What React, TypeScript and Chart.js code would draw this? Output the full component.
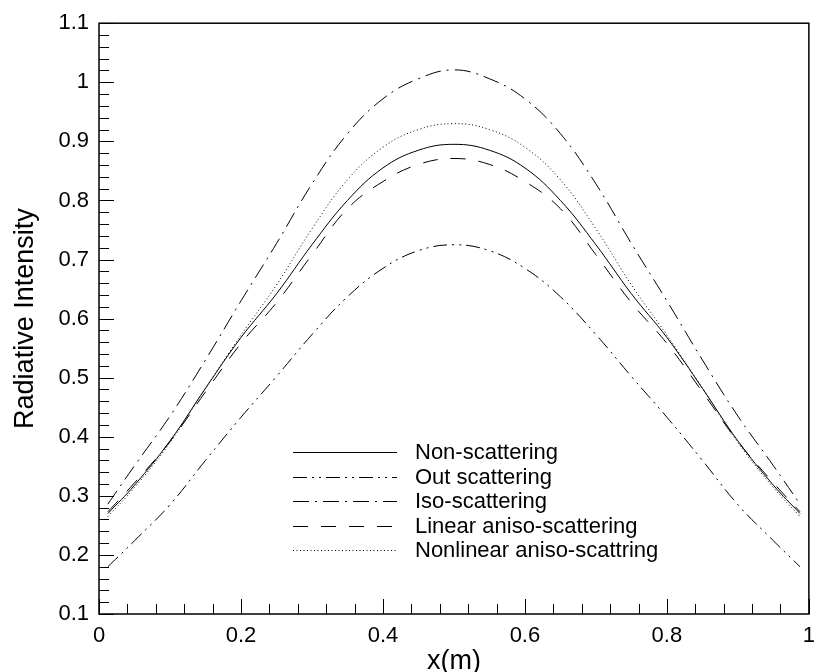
import React, { useEffect, useRef } from "react";
import { Chart, registerables } from "chart.js";

Chart.register(...registerables);

const xValues = [0.0125, 0.05, 0.1, 0.15, 0.2, 0.25, 0.3, 0.35, 0.4, 0.45, 0.5, 0.55, 0.6, 0.65, 0.7, 0.75, 0.8, 0.85, 0.9, 0.95, 0.9875];

const nonScattering = [0.270, 0.318, 0.393, 0.482, 0.568, 0.642, 0.725, 0.800, 0.855, 0.885, 0.895, 0.885, 0.855, 0.800, 0.725, 0.642, 0.568, 0.482, 0.393, 0.318, 0.270];
const outScattering = [0.180, 0.224, 0.285, 0.360, 0.433, 0.502, 0.573, 0.637, 0.685, 0.715, 0.725, 0.715, 0.685, 0.637, 0.573, 0.502, 0.433, 0.360, 0.285, 0.224, 0.180];
const isoScattering = [0.286, 0.351, 0.435, 0.530, 0.630, 0.727, 0.828, 0.913, 0.972, 1.006, 1.021, 1.006, 0.972, 0.913, 0.828, 0.727, 0.630, 0.530, 0.435, 0.351, 0.286];
const linearAniso = [0.273, 0.322, 0.392, 0.476, 0.558, 0.627, 0.708, 0.786, 0.832, 0.861, 0.871, 0.861, 0.832, 0.786, 0.708, 0.627, 0.558, 0.476, 0.392, 0.322, 0.273];
const nonlinearAniso = [0.265, 0.314, 0.390, 0.482, 0.572, 0.657, 0.752, 0.835, 0.890, 0.920, 0.930, 0.920, 0.890, 0.835, 0.752, 0.657, 0.572, 0.482, 0.390, 0.314, 0.265];

const seriesLabels = ["Non-scattering", "Out scattering", "Iso-scattering", "Linear aniso-scattering", "Nonlinear aniso-scattring"];
const seriesValues = [nonScattering, outScattering, isoScattering, linearAniso, nonlinearAniso];
const seriesDashes: number[][] = [[], [14, 5, 2, 5, 2, 5], [16, 6, 2, 6], [15, 13], [1, 2.5]];

const FONT = "'Liberation Sans', Arial, Helvetica, sans-serif";

const frameTicksLegend = {
  id: "frameTicksLegend",
  afterDatasetsDraw(chart: any) {
    const { ctx, chartArea: a, scales } = chart;
    const xs = scales.x;
    const ys = scales.y;
    ctx.save();
    ctx.strokeStyle = "#000";
    ctx.lineWidth = 1;
    ctx.setLineDash([]);
    for (let i = 0; i <= 50; i++) {
      const v = 0.1 + i * 0.02;
      const py = Math.round(ys.getPixelForValue(v)) + 0.5;
      const len = i % 5 === 0 ? 15 : 10;
      ctx.beginPath();
      ctx.moveTo(a.left, py);
      ctx.lineTo(a.left + len, py);
      ctx.stroke();
    }
    for (let i = 0; i <= 25; i++) {
      const v = i * 0.04;
      const px = Math.round(xs.getPixelForValue(v)) + 0.5;
      const len = i % 5 === 0 ? 15 : 10;
      ctx.beginPath();
      ctx.moveTo(px, a.bottom);
      ctx.lineTo(px, a.bottom - len);
      ctx.stroke();
    }
    ctx.lineWidth = 1.5;
    ctx.strokeRect(a.left, a.top, a.right - a.left, a.bottom - a.top);

    // legend
    const lx0 = a.left + 194;
    const lx1 = lx0 + 104;
    const tx = lx1 + 18;
    const y0 = 452;
    const rowH = 24.6;
    ctx.font = "22px " + FONT;
    ctx.textBaseline = "middle";
    ctx.textAlign = "left";
    ctx.fillStyle = "#000";
    chart.data.datasets.forEach((ds: any, i: number) => {
      const y = Math.round(y0 + i * rowH) + 0.5;
      ctx.lineWidth = 1;
      ctx.setLineDash(ds.borderDash || []);
      ctx.beginPath();
      ctx.moveTo(lx0, y);
      ctx.lineTo(lx1, y);
      ctx.stroke();
      ctx.setLineDash([]);
      ctx.fillText(ds.label, tx, y);
    });
    ctx.restore();
  },
};

function fmt(v: number) {
  return String(Number(Number(v).toFixed(2)));
}

export default function App() {
  const ref = useRef<HTMLCanvasElement | null>(null);
  useEffect(() => {
    if (!ref.current) return;
    const chart = new Chart(ref.current, {
      type: "line",
      data: {
        datasets: seriesLabels.map((label, i) => ({
          label,
          data: xValues.map((x, j) => ({ x, y: seriesValues[i][j] })),
          borderColor: "#000",
          borderWidth: 1,
          borderDash: seriesDashes[i],
          pointRadius: 0,
          fill: false,
          tension: 0.4,
        })),
      },
      options: {
        responsive: false,
        animation: false,
        layout: { padding: { top: 22, right: 5, left: 0, bottom: 0 } },
        plugins: { legend: { display: false }, tooltip: { enabled: false } },
        scales: {
          x: {
            type: "linear",
            min: 0,
            max: 1,
            grid: { display: false, drawTicks: false, tickLength: 0 },
            border: { display: false },
            ticks: {
              stepSize: 0.2,
              autoSkip: false,
              maxRotation: 0,
              padding: 9,
              color: "#000",
              font: { family: FONT, size: 22 },
              callback: (v: any) => fmt(v),
            },
            title: {
              display: true,
              text: "x(m)",
              color: "#000",
              font: { family: FONT, size: 27, lineHeight: 0.8 },
              padding: { top: 0, bottom: 0 },
            },
            afterFit: (s: any) => {
              s.height = 58;
            },
          },
          y: {
            type: "linear",
            min: 0.1,
            max: 1.1,
            grid: { display: false, drawTicks: false, tickLength: 0 },
            border: { display: false },
            ticks: {
              stepSize: 0.1,
              autoSkip: false,
              padding: 10,
              color: "#000",
              font: { family: FONT, size: 22 },
              callback: (v: any) => fmt(v),
            },
            title: {
              display: true,
              text: "Radiative Intensity",
              color: "#000",
              font: { family: FONT, size: 27 },
              padding: { top: 9, bottom: 0 },
            },
            afterFit: (s: any) => {
              s.width = 99;
            },
          },
        },
      },
      plugins: [frameTicksLegend],
    } as any);
    return () => chart.destroy();
  }, []);
  return (
    <div style={{ position: "fixed", left: 0, top: 0, width: 824, height: 672, background: "#fff" }}>
      <canvas ref={ref} width={824} height={672} style={{ width: 824, height: 672 }} />
    </div>
  );
}
